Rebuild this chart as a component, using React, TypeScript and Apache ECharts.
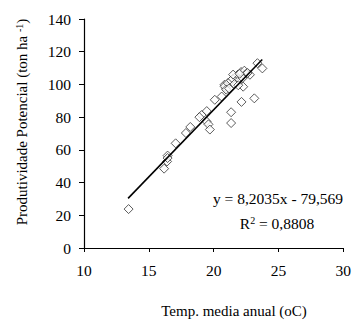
import React, { useEffect, useRef } from "react";
import * as echarts from "echarts";

const tempX = [
  13.44, 16.18, 16.41, 16.45, 17.07, 17.86, 18.2, 19.08, 19.47, 19.45, 19.6, 19.71,
  20.09, 20.62, 20.84, 20.96, 21.35, 21.35, 22.15, 22.28, 23.14, 23.38, 23.76, 22.8,
  20.85, 21.1, 21.35, 21.48, 21.73, 21.86, 22.12, 22.37, 22.5, 21.6, 21.99, 22.24,
  22.62, 20.97, 21.2, 21.5, 22.0, 21.9, 16.45, 18.9,
];
const prodY = [
  23.8, 48.5, 52.9, 56.5, 64.0, 70.3, 74.0, 81.3, 83.7, 77.4, 75.6, 72.4,
  90.6, 92.6, 99.8, 97.8, 83.0, 76.4, 89.3, 98.6, 91.5, 113.0, 109.8, 105.9,
  98.8, 100.8, 102.3, 103.5, 104.9, 105.9, 107.6, 108.4, 106.5, 100.2, 102.9, 103.9,
  107.0, 96.8, 97.5, 106.0, 106.5, 99.5, 55.0, 80.0,
];
const slope = 8.2035;
const intercept = -79.569;
const trendX = [13.4, 23.75];
const xTicks = [10, 15, 20, 25, 30];
const yTicks = [0, 20, 40, 60, 80, 100, 120, 140];

const FONT = "'Liberation Serif', 'Times New Roman', serif";

export default function App() {
  const ref = useRef<HTMLDivElement>(null);
  useEffect(() => {
    if (!ref.current) return;
    const chart = echarts.init(ref.current, null, { renderer: "svg" });
    const points = tempX.map((x, i) => [x, prodY[i]]);
    const trend = trendX.map((x) => [x, slope * x + intercept]);
    chart.setOption({
      animation: false,
      backgroundColor: "#ffffff",
      grid: { left: 84, right: 7, top: 19, bottom: 74 },
      xAxis: {
        type: "value",
        min: xTicks[0],
        max: xTicks[xTicks.length - 1],
        interval: 5,
        axisLine: { onZero: false, lineStyle: { color: "#000", width: 1.2 } },
        axisTick: { show: true, inside: false, length: 4, lineStyle: { color: "#000" } },
        splitLine: { show: false },
        axisLabel: { color: "#000", fontFamily: FONT, fontSize: 15.5, margin: 14 },
      },
      yAxis: {
        type: "value",
        min: yTicks[0],
        max: yTicks[yTicks.length - 1],
        interval: 20,
        axisLine: { show: true, lineStyle: { color: "#000", width: 1.2 } },
        axisTick: { show: true, inside: false, length: 5, lineStyle: { color: "#000" } },
        splitLine: { show: false },
        axisLabel: { color: "#000", fontFamily: FONT, fontSize: 15.5, margin: 13 },
      },
      series: [
        {
          type: "line",
          data: trend,
          symbol: "none",
          lineStyle: { color: "#000", width: 1.6 },
          z: 3,
        },
        {
          type: "scatter",
          data: points,
          symbol: "diamond",
          symbolSize: [9, 9],
          itemStyle: { color: "#fff", borderColor: "#333", borderWidth: 1 },
          z: 2,
        },
      ],
      graphic: [
        {
          type: "text",
          x: 278,
          y: 198,
          style: {
            text: "y = 8,2035x - 79,569",
            fill: "#000",
            font: `15.5px ${FONT}`,
            align: "center",
            verticalAlign: "middle",
          },
        },
        {
          type: "text",
          x: 277,
          y: 223,
          style: {
            text: "{a|R}{s|2}{a| = 0,8808}",
            fill: "#000",
            align: "center",
            verticalAlign: "middle",
            rich: {
              a: { fontFamily: FONT, fontSize: 15.5, fill: "#000" },
              s: { fontFamily: FONT, fontSize: 10, fill: "#000", verticalAlign: "top" },
            },
          },
        },
        {
          type: "text",
          x: 234,
          y: 311,
          style: {
            text: "Temp. media anual (oC)",
            fill: "#000",
            font: `15px ${FONT}`,
            align: "center",
            verticalAlign: "middle",
          },
        },
        {
          type: "text",
          x: 22,
          y: 122,
          rotation: Math.PI / 2,
          style: {
            text: "{a|Produtividade Potencial (ton ha }{s|-1}{a|)}",
            fill: "#000",
            align: "center",
            verticalAlign: "middle",
            rich: {
              a: { fontFamily: FONT, fontSize: 15, fill: "#000" },
              s: { fontFamily: FONT, fontSize: 10, fill: "#000", verticalAlign: "top" },
            },
          },
        },
      ],
    });
    return () => chart.dispose();
  }, []);
  return (
    <div
      ref={ref}
      style={{ position: "fixed", left: 0, top: 0, width: 354, height: 322 }}
    />
  );
}
